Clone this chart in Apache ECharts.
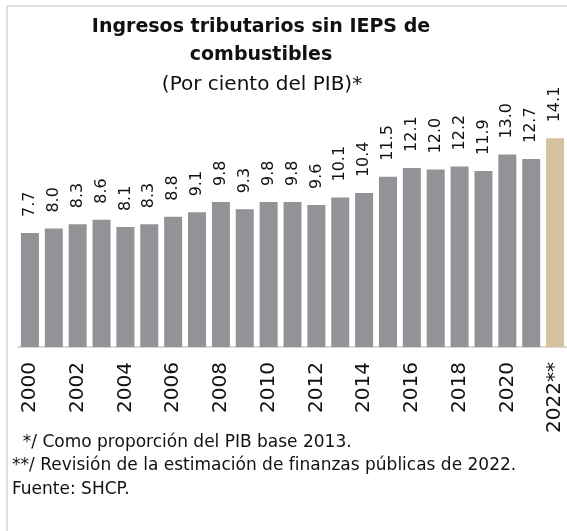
<!DOCTYPE html>
<html lang="es">
<head>
    <meta charset="UTF-8">
    <title>ingresos</title>
    <script src="https://cdn.jsdelivr.net/npm/echarts@6/dist/echarts.min.js"></script>
    <style>
        html, body { margin: 0; padding: 0; background: #fff; overflow: hidden; }
        #chart { position: absolute; left: 0; top: 0; width: 567px; height: 531px; }
    </style>
</head>
<body>
<div id="chart"></div>
<script>
    // años y valores (por ciento del PIB)
    var years = ['2000', '2001', '2002', '2003', '2004', '2005', '2006', '2007', '2008', '2009', '2010', '2011',
        '2012', '2013', '2014', '2015', '2016', '2017', '2018', '2019', '2020', '2021', '2022**'];
    var values = [7.7, 8.0, 8.3, 8.6, 8.1, 8.3, 8.8, 9.1, 9.8, 9.3, 9.8, 9.8,
        9.6, 10.1, 10.4, 11.5, 12.1, 12.0, 12.2, 11.9, 13.0, 12.7, 14.1];
    var notes = [
        '  */ Como proporción del PIB base 2013.',
        '**/ Revisión de la estimación de finanzas públicas de 2022.',
        'Fuente: SHCP.'
    ];

    var FONT = 'DejaVu Sans';
    var grey = '#939296';
    var tan = '#d4c19d';

    var chart = echarts.init(document.getElementById('chart'));

    var barData = values.map(function (v, i) {
        return {
            value: v,
            itemStyle: { color: i === values.length - 1 ? tan : grey }
        };
    });

    // marco gris (izquierda y arriba)
    var frame = [
        { type: 'line', shape: { x1: 7, y1: 5, x2: 7, y2: 531 }, style: { stroke: '#dedede', lineWidth: 2 } },
        { type: 'line', shape: { x1: 6, y1: 6, x2: 567, y2: 6 }, style: { stroke: '#dedede', lineWidth: 2 } }
    ];
    var noteTexts = notes.map(function (t, i) {
        return {
            type: 'text',
            left: 12,
            top: 434 + i * 23.5,
            style: { text: t, font: '17px "' + FONT + '"', fill: '#111' }
        };
    });

    var option = {
        animation: false,
        title: [{
            text: 'Ingresos tributarios sin IEPS de\ncombustibles',
            left: 261,
            top: 13,
            padding: 0,
            textAlign: 'center',
            textStyle: {
                fontFamily: FONT, fontWeight: 'bold', fontSize: 19, color: '#111',
                lineHeight: 28
            }
        }, {
            text: '(Por ciento del PIB)*',
            left: 262,
            top: 75,
            padding: 0,
            textAlign: 'center',
            textStyle: { fontFamily: FONT, fontWeight: 'normal', fontSize: 20, color: '#111' }
        }],
        graphic: frame.concat(noteTexts),
        grid: { left: 18, right: -1, top: 125, bottom: 184 },
        xAxis: {
            type: 'category',
            data: years,
            axisLine: { lineStyle: { color: '#d9d9d9', width: 2 } },
            axisTick: { show: false },
            axisLabel: {
                interval: 1,
                rotate: 90,
                margin: 15,
                fontFamily: FONT,
                fontSize: 20,
                color: '#111'
            }
        },
        yAxis: {
            type: 'value',
            min: 0,
            max: 15,
            show: false,
            splitLine: { show: false }
        },
        series: [{
            type: 'bar',
            data: barData,
            barWidth: 18,
            label: {
                show: true,
                position: 'top',
                rotate: 90,
                align: 'left',
                verticalAlign: 'middle',
                distance: 16,
                fontFamily: FONT,
                fontSize: 16,
                color: '#111',
                formatter: function (p) { return p.value.toFixed(1); }
            }
        }]
    };
    chart.setOption(option);
</script>
</body>
</html>
